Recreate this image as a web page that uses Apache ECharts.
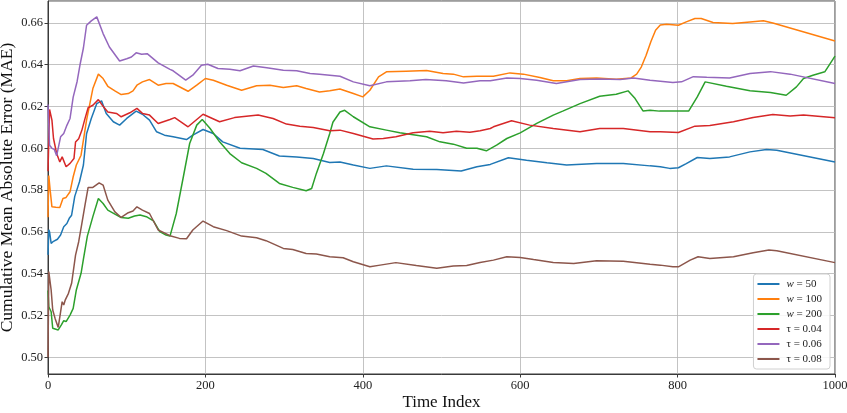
<!DOCTYPE html>
<html>
<head>
<meta charset="utf-8">
<script src="https://cdn.jsdelivr.net/npm/echarts@6/dist/echarts.min.js"></script>
<style>
html,body{margin:0;padding:0;background:#fff;}
#c{width:847px;height:413px;}
</style>
</head>
<body>
<div id="c"></div>
<script>
const seriesNames = ['w = 50', 'w = 100', 'w = 200', '\u03c4 = 0.04', '\u03c4 = 0.06', '\u03c4 = 0.08'];
const colors = ['#1f77b4', '#ff7f0e', '#2ca02c', '#d62728', '#9467bd', '#8c564b'];
const xTicks = [0, 200, 400, 600, 800, 1000];
const yTicks = [0.50, 0.52, 0.54, 0.56, 0.58, 0.60, 0.62, 0.64, 0.66];

const w50 = [[0,0.549],[1,0.561],[2,0.560],[4,0.5545],[7,0.5555],[12,0.5565],[16,0.5585],[20,0.5625],[24,0.564],[27,0.5665],[30,0.568],[34,0.577],[40,0.584],[45,0.592],[49,0.607],[55,0.6143],[62,0.6214],[68,0.6227],[74,0.6167],[83,0.6127],[91,0.6111],[100,0.6143],[112,0.6178],[120,0.6163],[129,0.6135],[138,0.6079],[148,0.6063],[159,0.6055],[176,0.6042],[184,0.6063],[197,0.609],[210,0.6071],[222,0.6031],[244,0.600],[273,0.5994],[294,0.5963],[316,0.5959],[337,0.5951],[358,0.5932],[371,0.5935],[388,0.592],[409,0.5904],[430,0.5916],[464,0.590],[494,0.5899],[525,0.5891],[545,0.5912],[562,0.5923],[585,0.5955],[608,0.5943],[634,0.5931],[659,0.592],[697,0.5927],[731,0.5927],[765,0.5916],[778,0.5912],[790,0.5904],[801,0.5907],[811,0.5927],[825,0.5956],[841,0.5951],[866,0.5959],[892,0.5983],[913,0.5994],[926,0.5991],[1000,0.5935]];

const w100 = [[0,0.567],[1,0.587],[3,0.579],[5,0.572],[10,0.5718],[15,0.5717],[19,0.576],[23,0.5765],[28,0.5792],[32,0.5864],[36,0.592],[42,0.5967],[49,0.6135],[57,0.6286],[64,0.6355],[70,0.6334],[76,0.6297],[85,0.6275],[93,0.6257],[102,0.6262],[108,0.6275],[113,0.6302],[120,0.6318],[129,0.6329],[140,0.6302],[150,0.631],[159,0.631],[178,0.6273],[189,0.6302],[200,0.6334],[210,0.6326],[227,0.6302],[246,0.6278],[265,0.6299],[282,0.6302],[299,0.6291],[316,0.6299],[328,0.6286],[345,0.627],[358,0.6275],[371,0.6284],[388,0.6262],[400,0.6246],[409,0.6278],[420,0.6342],[430,0.6366],[455,0.6369],[481,0.6372],[502,0.6358],[515,0.6355],[528,0.6342],[545,0.6345],[566,0.6345],[587,0.6361],[604,0.6355],[625,0.6339],[642,0.6323],[659,0.6323],[676,0.6334],[697,0.6337],[722,0.6331],[741,0.6337],[748,0.6355],[754,0.639],[760,0.6445],[766,0.651],[772,0.6565],[778,0.659],[786,0.6594],[801,0.6589],[811,0.6605],[822,0.6621],[830,0.6621],[845,0.6602],[870,0.6597],[892,0.6605],[909,0.661],[921,0.66],[1000,0.6514]];

const w200 = [[0,0.532],[1,0.5242],[4,0.5218],[6,0.5139],[13,0.5131],[17,0.5155],[20,0.5175],[23,0.5171],[28,0.5202],[32,0.5234],[36,0.5322],[42,0.5402],[45,0.547],[50,0.558],[57,0.5673],[64,0.576],[70,0.5736],[76,0.5704],[85,0.5685],[93,0.5669],[102,0.5665],[110,0.5676],[117,0.5681],[125,0.5673],[134,0.5653],[142,0.5601],[150,0.5585],[155,0.558],[163,0.5688],[172,0.5864],[180,0.6023],[189,0.6111],[196,0.6138],[206,0.6095],[218,0.6031],[231,0.5975],[246,0.5931],[265,0.5904],[277,0.588],[294,0.5832],[311,0.5813],[328,0.5797],[335,0.5808],[341,0.588],[350,0.5975],[358,0.6071],[362,0.6125],[371,0.6174],[377,0.6182],[388,0.6151],[409,0.6103],[430,0.6087],[447,0.6074],[481,0.6055],[498,0.6031],[515,0.602],[532,0.600],[545,0.600],[557,0.5988],[570,0.6015],[583,0.6047],[600,0.6074],[621,0.6119],[642,0.6159],[654,0.6178],[676,0.6214],[701,0.6249],[722,0.6259],[737,0.6275],[746,0.6238],[756,0.6179],[765,0.6182],[777,0.6178],[794,0.6178],[814,0.6178],[825,0.6246],[835,0.6318],[862,0.6297],[892,0.6275],[918,0.6267],[938,0.6254],[951,0.6294],[960,0.6334],[972,0.635],[987,0.6366],[1000,0.6441]];

const tau04 = [[0,0.589],[2,0.6186],[5,0.6135],[7,0.6047],[11,0.5975],[15,0.5935],[18,0.5959],[20,0.5963],[23,0.5912],[28,0.5928],[33,0.5951],[35,0.603],[39,0.6046],[43,0.6086],[47,0.6142],[51,0.6194],[57,0.6206],[64,0.6233],[70,0.6201],[76,0.6174],[87,0.6167],[93,0.6151],[104,0.617],[113,0.6191],[120,0.6167],[129,0.6159],[140,0.6119],[155,0.6138],[161,0.6147],[178,0.6103],[197,0.6163],[218,0.6127],[237,0.6147],[267,0.6159],[286,0.6143],[303,0.6116],[320,0.6106],[337,0.610],[358,0.6084],[371,0.6087],[388,0.6071],[413,0.6045],[426,0.6047],[442,0.6055],[464,0.6074],[485,0.6082],[502,0.6074],[519,0.6082],[536,0.6077],[549,0.6084],[562,0.6095],[566,0.6103],[589,0.6132],[612,0.6111],[642,0.6095],[676,0.6079],[701,0.6095],[731,0.6095],[765,0.6079],[778,0.6079],[801,0.6076],[822,0.6106],[841,0.6109],[871,0.6127],[896,0.6147],[921,0.6162],[943,0.6155],[960,0.6159],[1000,0.6146]];

const tau06 = [[0,0.621],[2,0.6015],[5,0.600],[8,0.5995],[11,0.5965],[16,0.6055],[20,0.6071],[24,0.611],[28,0.6143],[32,0.6245],[37,0.632],[41,0.6406],[45,0.648],[49,0.6589],[55,0.661],[62,0.6629],[70,0.6549],[78,0.6485],[91,0.6418],[100,0.6429],[106,0.6437],[112,0.6457],[119,0.645],[126,0.6453],[140,0.6409],[155,0.6378],[159,0.6371],[175,0.6326],[184,0.635],[195,0.6398],[203,0.6402],[216,0.6382],[231,0.6378],[244,0.6371],[261,0.6394],[278,0.6386],[299,0.6374],[316,0.6371],[333,0.6358],[345,0.6355],[371,0.6345],[388,0.6318],[409,0.6299],[430,0.6318],[460,0.6323],[480,0.6329],[506,0.6323],[528,0.6313],[549,0.6323],[562,0.6323],[583,0.6337],[600,0.6334],[621,0.6326],[646,0.631],[676,0.6329],[701,0.6332],[727,0.6329],[744,0.6337],[765,0.6326],[778,0.6321],[794,0.6315],[805,0.6318],[820,0.6343],[837,0.634],[866,0.6337],[892,0.6358],[918,0.6367],[943,0.6355],[1000,0.631]];

const tau08 = [[0,0.50],[1,0.541],[4,0.5322],[6,0.5226],[9,0.5186],[13,0.5143],[18,0.5266],[20,0.525],[22,0.5275],[26,0.5306],[30,0.5354],[35,0.5489],[39,0.5553],[43,0.564],[47,0.5728],[51,0.5813],[57,0.5813],[65,0.5835],[70,0.5824],[76,0.5752],[85,0.5696],[93,0.5669],[102,0.5692],[108,0.570],[113,0.572],[120,0.5704],[129,0.5688],[140,0.5609],[155,0.5582],[167,0.5569],[176,0.5567],[184,0.5609],[197,0.5652],[210,0.5625],[227,0.5606],[246,0.558],[265,0.5572],[277,0.5558],[299,0.5521],[311,0.5516],[328,0.5497],[341,0.5494],[358,0.5481],[375,0.5476],[388,0.5457],[409,0.5433],[422,0.5441],[442,0.5453],[468,0.5439],[494,0.5426],[515,0.5437],[532,0.5439],[549,0.5454],[566,0.5465],[583,0.5481],[600,0.5478],[617,0.5468],[642,0.5454],[668,0.5449],[697,0.5462],[731,0.5459],[765,0.5445],[778,0.5441],[794,0.5433],[801,0.5433],[816,0.5465],[826,0.5481],[841,0.5473],[871,0.5481],[896,0.55],[916,0.5513],[926,0.551],[1000,0.5453]];

const allData = [w50, w100, w200, tau04, tau06, tau08];
const FONT = '"Liberation Serif", "DejaVu Serif", serif';

const chart = echarts.init(document.getElementById('c'), null, {renderer: 'canvas'});
chart.setOption({
  animation: false,
  backgroundColor: '#ffffff',
  grid: {left: 48, right: 12, top: 1, bottom: 39, outerBoundsMode: 'none', containLabel: false, show: true, borderColor: '#3a3a3a', borderWidth: 1, backgroundColor: 'transparent'},
  legend: {
    orient: 'vertical',
    right: 17,
    bottom: 44,
    data: seriesNames,
    icon: 'rect',
    itemWidth: 22,
    itemHeight: 2,
    itemGap: 1,
    padding: [3, 8, 3, 4],
    borderColor: '#d0d0d0',
    borderWidth: 1,
    borderRadius: 3,
    backgroundColor: 'rgba(255,255,255,0.85)',
    formatter: function (name) { return name.replace(/^w/, '{it|w}'); },
    textStyle: {
      fontFamily: FONT, fontSize: 11, color: '#222', lineHeight: 14, padding: [0, 0, 0, 2],
      rich: {it: {fontFamily: FONT, fontStyle: 'italic', fontSize: 11, color: '#222', lineHeight: 14}}
    }
  },
  xAxis: {
    type: 'value',
    min: 0, max: 1000, interval: 200,
    name: 'Time Index',
    nameLocation: 'middle',
    nameGap: 20,
    nameMoveOverlap: false,
    nameTextStyle: {fontFamily: FONT, fontSize: 17, color: '#111'},
    axisLine: {show: true, lineStyle: {color: '#3a3a3a', width: 1}},
    axisTick: {show: true, length: 3.5, lineStyle: {color: '#3a3a3a'}},
    axisLabel: {
      fontFamily: FONT, fontSize: 12.5, color: '#222', margin: 5,
      formatter: function (v) { return xTicks.indexOf(v) >= 0 ? String(v) : ''; }
    },
    splitLine: {show: true, lineStyle: {color: '#b4b4b4', width: 0.8}}
  },
  yAxis: {
    type: 'value',
    min: 0.492, max: 0.6705,
    minInterval: 0.02, maxInterval: 0.02, splitNumber: 9,
    name: 'Cumulative Mean Absolute Error (MAE)',
    nameLocation: 'middle',
    nameGap: 32,
    nameMoveOverlap: false,
    nameTextStyle: {fontFamily: FONT, fontSize: 17.5, color: '#111'},
    axisLine: {show: true, lineStyle: {color: '#3a3a3a', width: 1}},
    axisTick: {show: true, length: 3.5, lineStyle: {color: '#3a3a3a'}},
    axisLabel: {
      fontFamily: FONT, fontSize: 12.5, color: '#222', margin: 5,
      showMinLabel: false, showMaxLabel: false,
      formatter: function (v) {
        for (const t of yTicks) { if (Math.abs(t - v) < 1e-6) return t.toFixed(2); }
        return '';
      }
    },
    splitLine: {show: true, lineStyle: {color: '#b4b4b4', width: 0.8}}
  },
  series: seriesNames.map(function (n, i) {
    return {
      name: n, type: 'line', data: allData[i], showSymbol: false, symbol: 'none',
      lineStyle: {color: colors[i], width: 1.5}, itemStyle: {color: colors[i]},
      clip: true, z: 3
    };
  })
});
</script>
</body>
</html>
